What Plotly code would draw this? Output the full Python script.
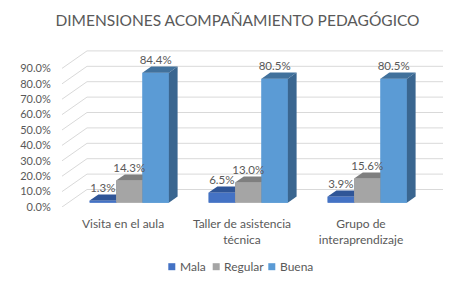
import plotly.graph_objects as go

# ---------------- data ----------------
categories = ["Visita en el aula", "Taller de asistencia<br>técnica", "Grupo de<br>interaprendizaje"]
series_names = ["Mala", "Regular", "Buena"]
mala = [1.3, 6.5, 3.9]
regular = [14.3, 13.0, 15.6]
buena = [84.4, 80.5, 80.5]
y_ticks = [0, 10, 20, 30, 40, 50, 60, 70, 80, 90]
title_text = "DIMENSIONES ACOMPAÑAMIENTO PEDAGÓGICO"

series_values = [mala, regular, buena]

# ---------------- styles ----------------
front_colors = ["#4472C4", "#A5A5A5", "#5B9BD5"]
top_colors = ["#2F5597", "#7F7F7F", "#41719C"]
side_colors = ["#2F528F", "#7C7C7C", "#3A6690"]
grid_color = "#D9D9D9"
text_color = "#595959"
FONT = "Lato"

# ---------------- layout geometry ----------------
W, H = 474, 282
ML, MR, MT, MB = 62, 31, 45, 75
PX_PER_CAT = 119.0
PX_PER_PCT = 1.54
FIRST_CAT_PX = 123.0
x_range = [(ML - FIRST_CAT_PX) / PX_PER_CAT, (W - MR - FIRST_CAT_PX) / PX_PER_CAT]
y_range = [0, (H - MT - MB) / PX_PER_PCT]
DX = 25.0 / PX_PER_CAT      # depth shift (x) of full floor depth
DY = 17.5 / PX_PER_PCT      # depth shift (y) of full floor depth
Z_FRONT, Z_BACK = 0.25, 0.6
BAR_W = 26.4 / PX_PER_CAT

# legend placement (pixels)
LEGEND_Y_PX = 266.7
LEGEND_SQ_X_PX = [168.3, 212.7, 268.3]
LEGEND_SQ = 7.0


def proj(x, y, z):
    return x + z * DX, y + z * DY


def poly(points):
    xs, ys = [], []
    for p in points:
        px, py = proj(*p)
        xs.append(px)
        ys.append(py)
    xs.append(xs[0])
    ys.append(ys[0])
    return xs, ys


def paper_x(px):
    return (px - ML) / (W - ML - MR)


def paper_y(py):
    return (H - MB - py) / (H - MT - MB)


fig = go.Figure()

# front faces as bars (covered by identical polygons below for correct 3D stacking)
for j, name in enumerate(series_names):
    xs = [i + (j - 1) * BAR_W + Z_FRONT * DX for i in range(len(categories))]
    fig.add_trace(go.Bar(
        x=xs, y=series_values[j], base=[Z_FRONT * DY] * len(categories),
        width=BAR_W, name=name, marker=dict(color=front_colors[j], line=dict(width=0)),
        hoverinfo="skip", showlegend=False))

# 3D faces
label_x, label_y, label_t = [], [], []
for i in range(len(categories)):
    for j in range(len(series_names)):
        v = series_values[j][i]
        xl = i + (j - 1.5) * BAR_W
        xr = xl + BAR_W
        faces = [
            ([(xl, 0, Z_FRONT), (xr, 0, Z_FRONT), (xr, v, Z_FRONT), (xl, v, Z_FRONT)], front_colors[j]),
            ([(xl, v, Z_FRONT), (xr, v, Z_FRONT), (xr, v, Z_BACK), (xl, v, Z_BACK)], top_colors[j]),
            ([(xr, 0, Z_FRONT), (xr, 0, Z_BACK), (xr, v, Z_BACK), (xr, v, Z_FRONT)], side_colors[j]),
        ]
        for pts, col in faces:
            xs, ys = poly(pts)
            fig.add_trace(go.Scatter(
                x=xs, y=ys, mode="lines", fill="toself", fillcolor=col,
                line=dict(width=0, color=col), showlegend=False, hoverinfo="skip"))
        lx, ly = proj((xl + xr) / 2, v, Z_BACK)
        label_x.append(lx - (Z_BACK - Z_FRONT) * DX)
        label_y.append(ly)
        label_t.append(f"{v:.1f}%")

fig.add_trace(go.Scatter(
    x=label_x, y=label_y, text=label_t, mode="text", textposition="top center",
    textfont=dict(family=FONT, size=11.5, color=text_color),
    showlegend=False, hoverinfo="skip"))

# gridlines (front slant + back wall)
for v in y_ticks:
    x0 = x_range[0]
    xb, yb = proj(x0, v, 1.0)
    fig.add_shape(type="line", x0=x0, y0=v, x1=xb, y1=yb, xref="x", yref="y",
                  line=dict(color=grid_color, width=1), layer="below")
    fig.add_shape(type="line", x0=xb, y0=yb, x1=x_range[1], y1=yb, xref="x", yref="y",
                  line=dict(color=grid_color, width=1), layer="below")

# manual compact legend
for j, name in enumerate(series_names):
    sx = LEGEND_SQ_X_PX[j]
    fig.add_shape(type="rect", xref="paper", yref="paper",
                  x0=paper_x(sx), x1=paper_x(sx + LEGEND_SQ),
                  y0=paper_y(LEGEND_Y_PX + LEGEND_SQ / 2), y1=paper_y(LEGEND_Y_PX - LEGEND_SQ / 2),
                  fillcolor=front_colors[j], line=dict(width=0))
    fig.add_annotation(text=name, xref="paper", yref="paper",
                       x=paper_x(sx + LEGEND_SQ + 2.5), y=paper_y(LEGEND_Y_PX),
                       xanchor="left", yanchor="middle", showarrow=False,
                       font=dict(family=FONT, size=12, color=text_color))

fig.update_layout(
    width=W, height=H,
    margin=dict(l=ML, r=MR, t=MT, b=MB, pad=0, autoexpand=False),
    paper_bgcolor="white", plot_bgcolor="white",
    barmode="overlay",
    showlegend=False,
    font=dict(family=FONT, color=text_color, size=12),
    title=dict(text=title_text, x=237.5 / W, xanchor="center", xref="container",
               y=1 - 20.7 / H, yanchor="middle", yref="container",
               font=dict(family=FONT, size=15.5, color=text_color)),
    xaxis=dict(range=x_range, tickvals=list(range(len(categories))), ticktext=categories,
               showgrid=False, zeroline=False, showline=False,
               ticks="outside", ticklen=6, tickcolor="rgba(0,0,0,0)",
               tickfont=dict(family=FONT, size=12, color=text_color),
               automargin=False, fixedrange=True),
    yaxis=dict(range=y_range, tickvals=y_ticks, ticktext=[f"{t:.1f}%" for t in y_ticks],
               showgrid=False, zeroline=False, showline=False,
               ticks="outside", ticklen=8, tickcolor="rgba(0,0,0,0)",
               tickfont=dict(family=FONT, size=11, color=text_color),
               automargin=False, fixedrange=True),
)

fig.write_html(
    "out.html",
    config={"displayModeBar": False},
    post_script="document.body.style.margin='0';document.body.style.padding='0';",
)
